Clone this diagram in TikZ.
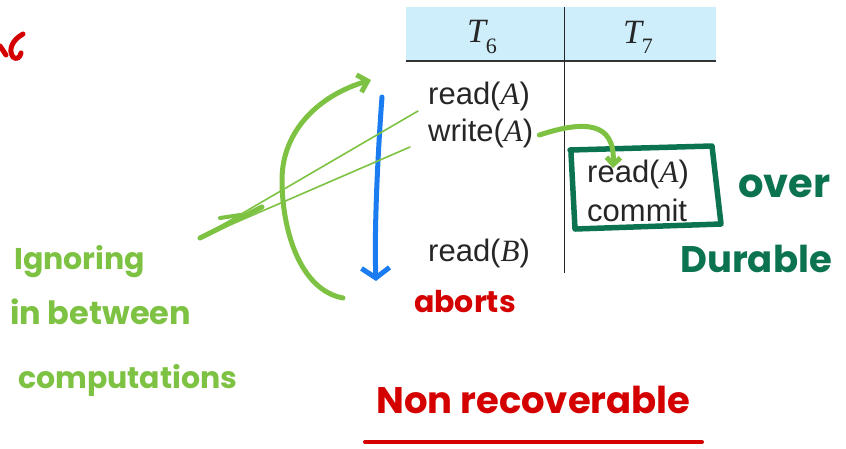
\documentclass[tikz,border=0pt]{standalone}
\usepackage{fontspec}
\setmainfont{Liberation Sans}
\newfontfamily\serit{Liberation Serif}[ItalicFont={* Italic}]
\newfontfamily\hand{Poppins}
\usetikzlibrary{arrows.meta}
\definecolor{headblue}{HTML}{CDEEFA}
\definecolor{penred}{HTML}{D40000}
\definecolor{pendark}{HTML}{0B7350}
\definecolor{penlime}{HTML}{7DC242}
\definecolor{penblue}{HTML}{1A7CF0}
\newcommand{\vr}[1]{{\serit\itshape #1}}
\newcommand{\tn}[2]{{\serit\itshape #1}\raisebox{-0.3em}{\serit\fontsize{22}{22}\selectfont #2}}
\tikzset{
  cell/.style={anchor=west, inner sep=0pt, font=\fontsize{31}{34}\selectfont, text=black!85},
  headcell/.style={inner sep=0pt, font=\fontsize{34}{36}\selectfont, text=black!85},
  ink/.style={line cap=round, line join=round},
  note/.style={inner sep=0pt, anchor=west, font=\hand\bfseries\fontsize{30}{32}\selectfont},
}
\begin{document}
\begin{tikzpicture}[x=1pt,y=-1pt]
\useasboundingbox (0,0) rectangle (846,448);

% table
\fill[headblue] (406,7) rectangle (716,60);
\draw[line width=2.2pt, black!80] (406,61) -- (716,61);
\draw[line width=1pt, black!85] (564,7) -- (564,273);
\node[headcell] (t6) at (482,37) {\tn{T}{6}};
\node[headcell] (t7) at (638,37) {\tn{T}{7}};
\node[cell] (ra) at (428,96) {read(\vr{A})};
\node[cell] (wa) at (428,133) {write(\vr{A})};
\node[cell] (rb) at (587,174) {read(\vr{A})};
\node[cell] (cm) at (587,210) {commit};
\node[cell] (rB) at (428,253) {read(\vr{B})};

% dark green box around the T7 operations
\draw[ink, pendark, line width=5.5pt] (570,150) -- (712,146) -- (721,224) -- (575,229) -- (571,153);

% dirty read arrow
\draw[ink, penlime, line width=5pt, -{Straight Barb[length=7pt,width=14pt]}]
  ([xshift=6pt,yshift=-2pt]wa.east) .. controls (585,120) and (615,122) .. (613,168);

% blue arrow down the T6 column
\coordinate (btop) at (382,97);
\coordinate (bbot) at (376,281);
\draw[ink, penblue, line width=5pt, -{Straight Barb[length=10pt,width=28pt]}] (btop) .. controls (378,150) and (374,230) .. (bbot);

% green arc
\coordinate (abot) at (343,298);
\coordinate (atop) at (371,80);
\draw[ink, penlime, line width=5pt, -{Straight Barb[length=9pt,width=18pt]}]
  (abot) .. controls (300,290) and (282,230) .. (282,180) .. controls (282,130) and (320,95) .. (atop);

% thin lines to the T6 reads
\coordinate (ls) at (200,238);
\draw[ink, penlime, line width=1.6pt] (ls) -- (418,111);
\draw[ink, penlime, line width=1.6pt] (ls) -- (410,147);
\draw[ink, penlime, line width=5pt] (ls) -- (262,207);
\draw[ink, penlime, line width=4pt] (220,218) -- (240,215);

% red stroke at the top left
\draw[ink, penred, line width=5pt] (23,34) .. controls (12,40) and (8,50) .. (13,57) .. controls (16,60) and (20,58) .. (21,53);
\draw[ink, penred, line width=5pt] (0,46) -- (6,55);

% handwritten notes
\node[note, text=penlime] (n1) at (14,262) {Ignoring};
\node[note, text=penlime, font=\hand\bfseries\fontsize{32}{34}\selectfont] (n2) at (10,312) {in between};
\node[note, text=penlime] (n3) at (18,380) {computations};
\node[note, text=pendark, font=\hand\bfseries\fontsize{40}{42}\selectfont] (n4) at (738,186) {over};
\node[note, text=pendark, font=\hand\bfseries\fontsize{37}{40}\selectfont] (n5) at (680,259) {Durable};
\node[note, text=penred] (n6) at (414,302) {aborts};
\node[note, text=penred, font=\hand\bfseries\fontsize{37}{40}\selectfont] (n7) at (376,400) {Non recoverable};
\draw[ink, penred, line width=4pt] (365,442) -- (702,442);
\end{tikzpicture}
\end{document}
